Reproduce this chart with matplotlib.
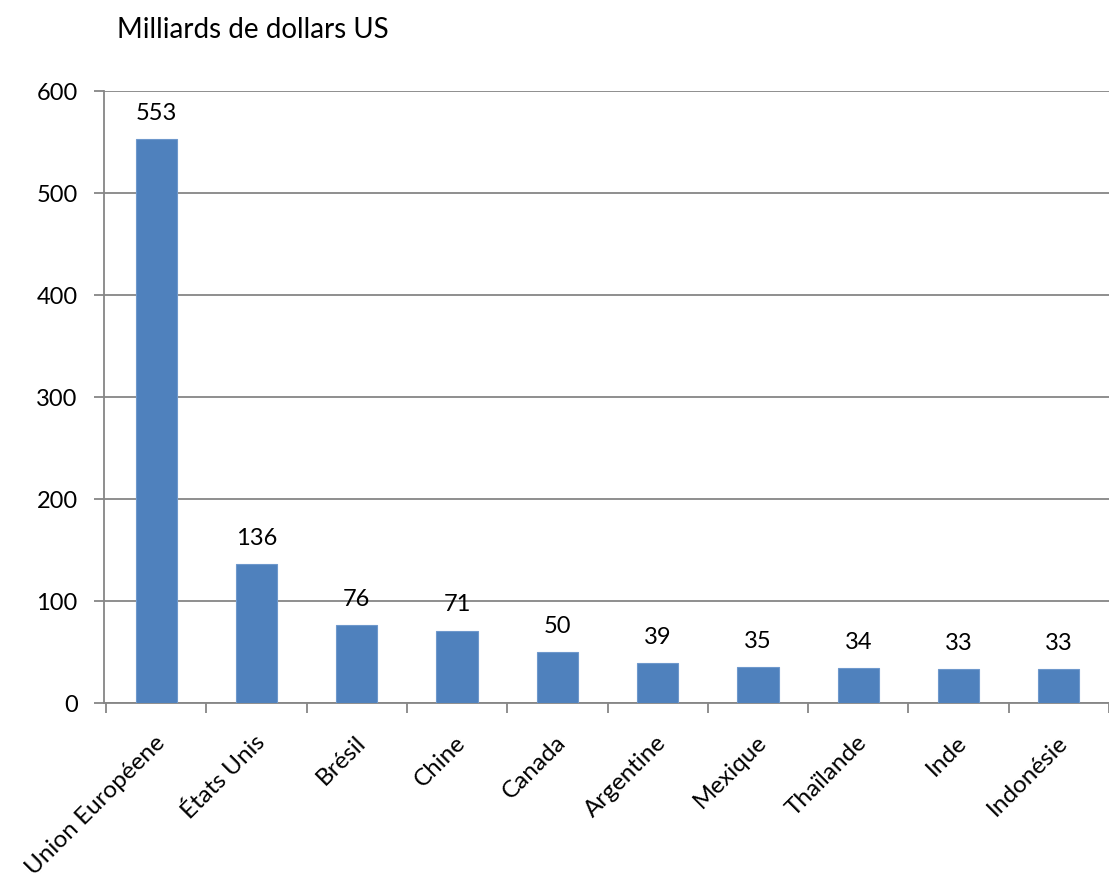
import matplotlib
matplotlib.use("Agg")
import matplotlib.pyplot as plt
import matplotlib.transforms as mtransforms
import numpy as np

categories = ["Union Européene", "États Unis", "Brésil", "Chine", "Canada",
              "Argentine", "Mexique", "Thaïlande", "Inde", "Indonésie"]
values = [553, 136, 76, 71, 50, 39, 35, 34, 33, 33]
yticks = [0, 100, 200, 300, 400, 500, 600]
title = "Milliards de dollars US"

plt.rcParams['font.family'] = ['Lato', 'DejaVu Sans']

fig = plt.figure(figsize=(11.09, 8.75), dpi=100)
ax = fig.add_axes([104/1109, 1-703/875, 1-104/1109, (703-91)/875])

x = np.arange(len(categories))
grid_c = "#868686"
ax.bar(x, values, width=0.41, color="#4F81BD", edgecolor="#6E98CC", linewidth=0.8, zorder=3)

for xi, v in zip(x, values):
    ax.annotate(str(v), (xi, v), xytext=(0, 11), textcoords="offset points",
                ha="center", va="bottom", fontsize=17, color="black")

ax.set_xlim(-0.52, len(categories) - 0.52)
ax.set_ylim(0, 600)
ax.set_yticks(yticks)
ax.set_yticklabels([str(t) for t in yticks], fontsize=17)
ax.yaxis.grid(True, color=grid_c, linewidth=1.3, zorder=0)
ax.set_axisbelow(True)

# category boundary ticks
ax.set_xticks(np.arange(len(categories) + 1) - 0.5, minor=False)
ax.set_xticklabels([])
ax.set_xticks(x, minor=True)
ax.set_xticklabels(categories, minor=True, rotation=45, ha="right", va="center",
                   rotation_mode="anchor", fontsize=17.5)
ax.tick_params(axis="x", which="minor", length=0, pad=26)
ax.tick_params(axis="x", which="major", length=7, width=1.3, color=grid_c, direction="out")
ax.tick_params(axis="y", length=7, width=1.3, color=grid_c, pad=12)

shift = mtransforms.ScaledTranslation(5/100, 0, fig.dpi_scale_trans)
for lbl in ax.get_xticklabels(minor=True):
    lbl.set_transform(lbl.get_transform() + shift)

for s in ["top", "right"]:
    ax.spines[s].set_visible(False)
for s in ["left", "bottom"]:
    ax.spines[s].set_color(grid_c)
    ax.spines[s].set_linewidth(1.3)

fig.text(117/1109, 1-30/875, title, fontsize=20, ha="left", va="center")

fig.savefig("out.png", dpi=100)
